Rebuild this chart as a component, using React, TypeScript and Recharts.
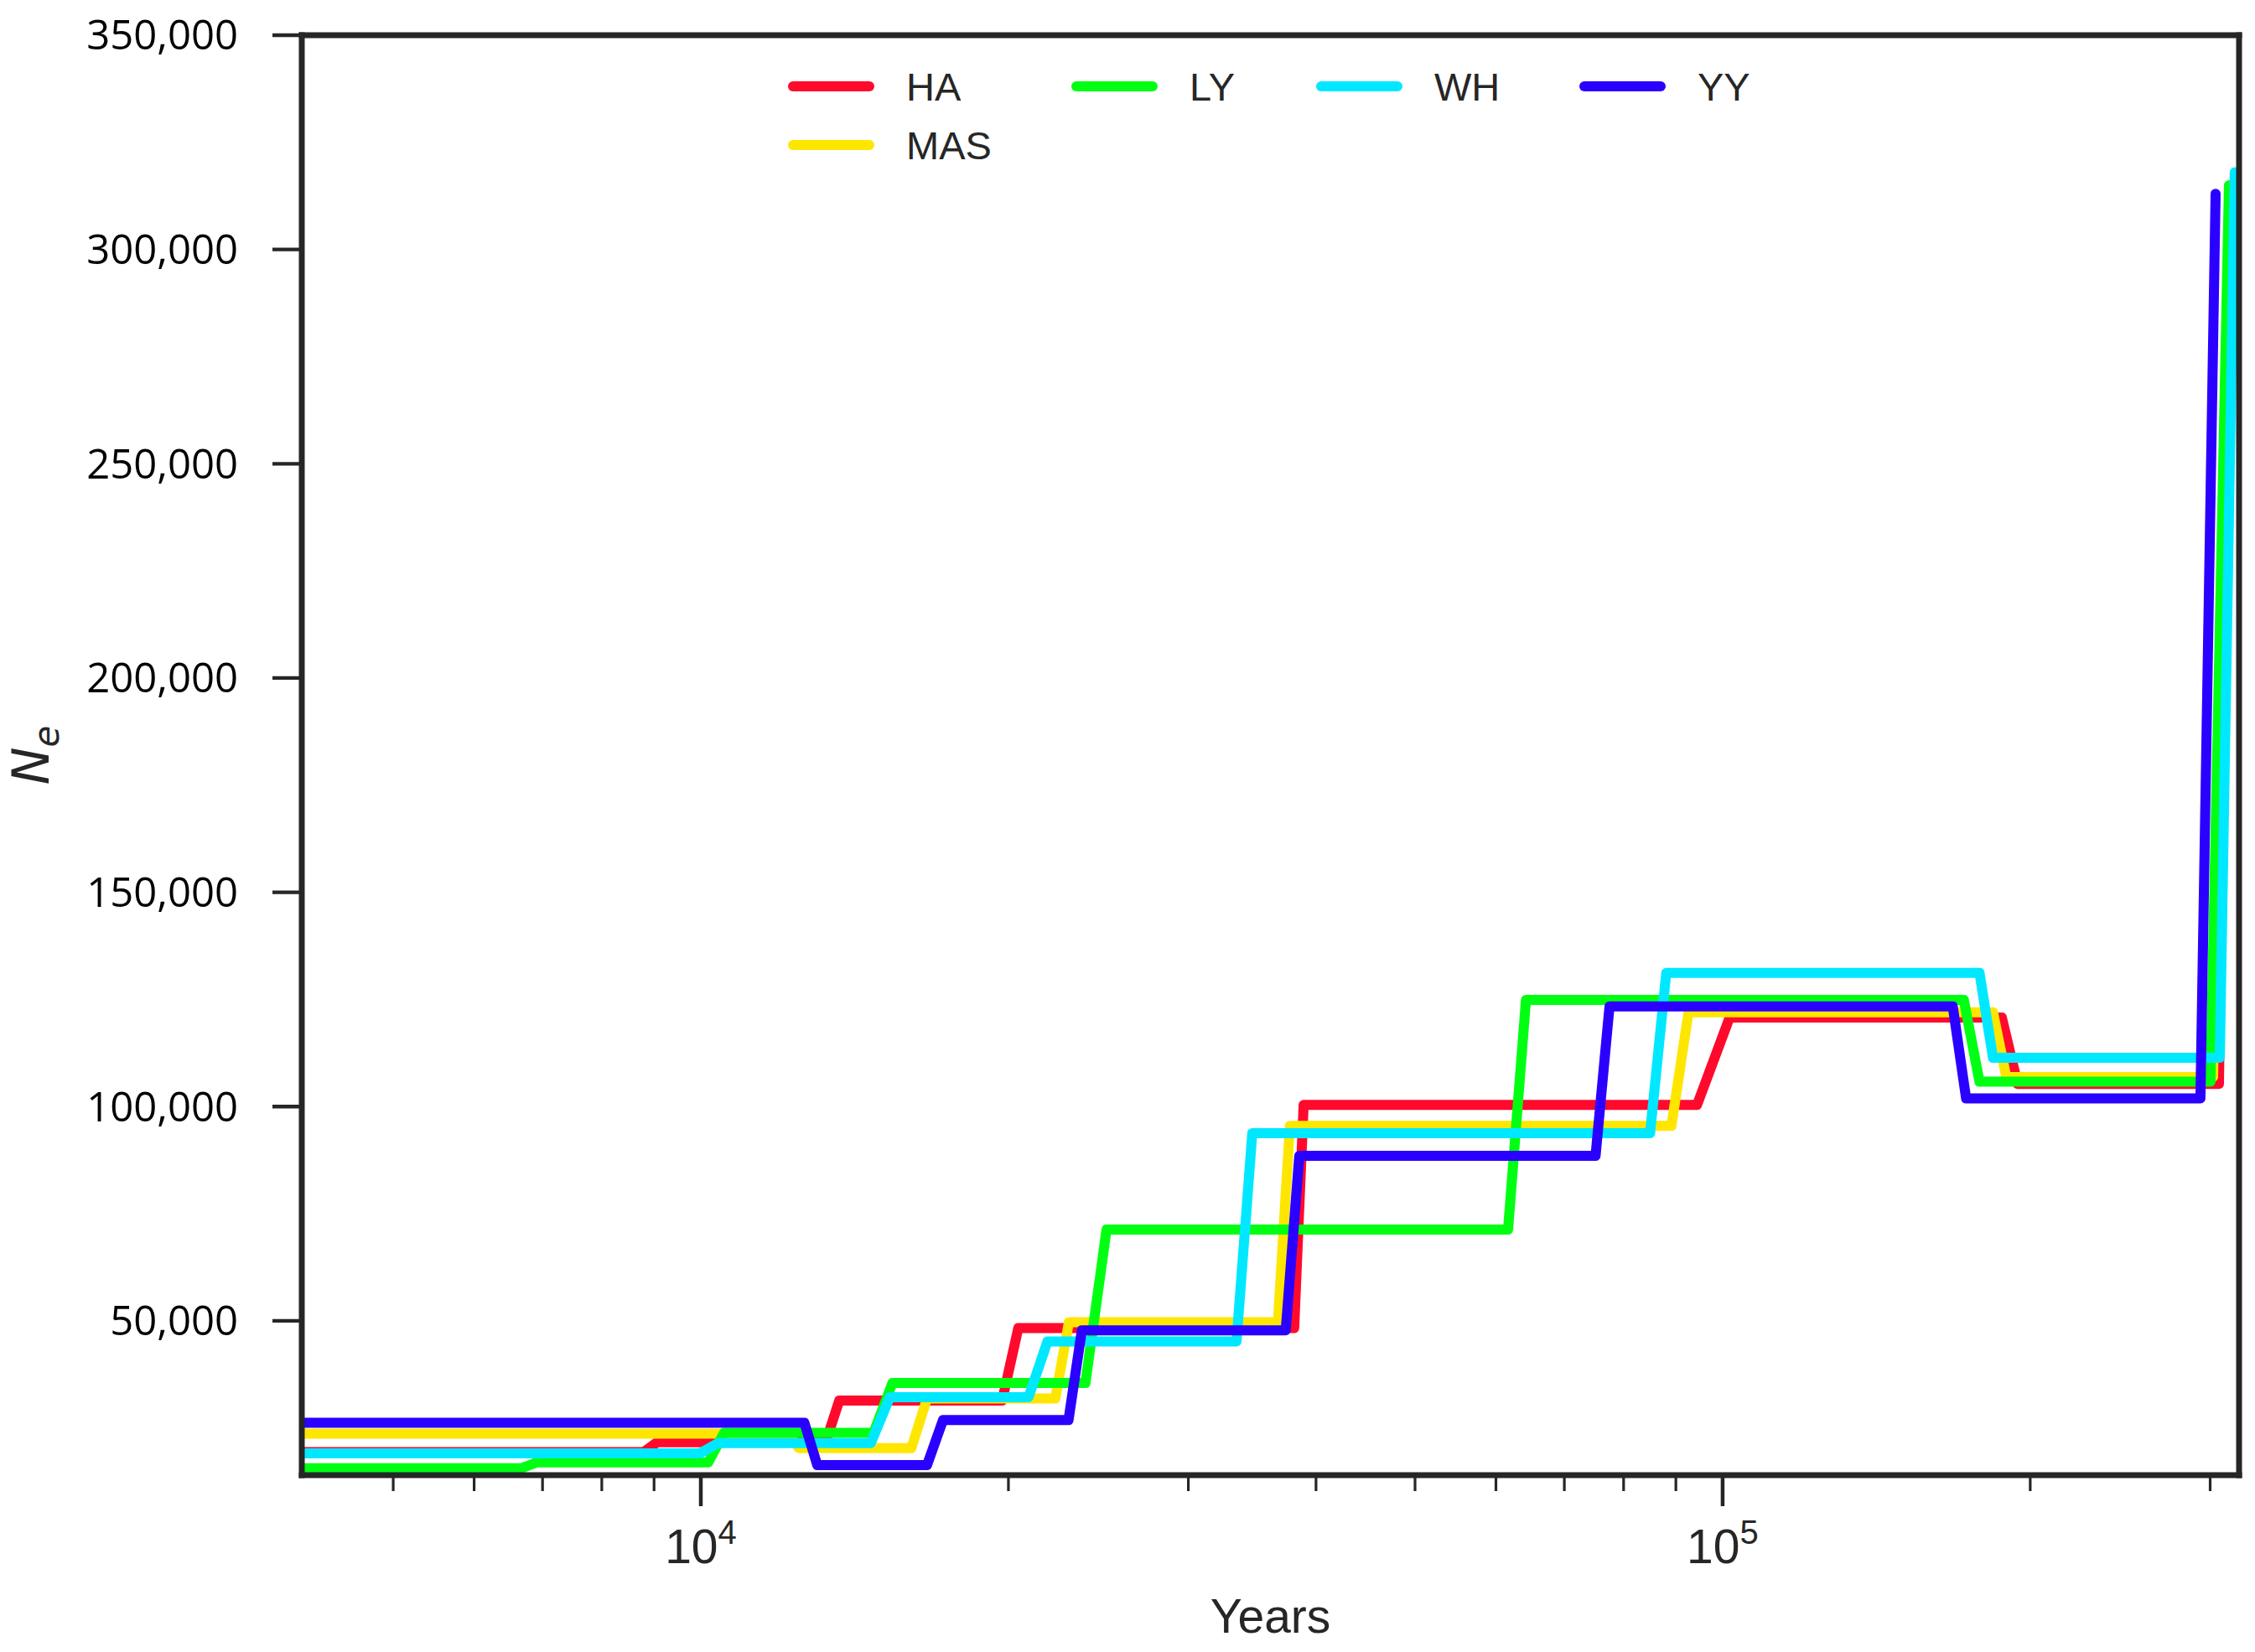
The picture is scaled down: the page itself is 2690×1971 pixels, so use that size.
import { LineChart, Line, XAxis, YAxis, Legend, Label, ReferenceLine } from "recharts";

// Ne step curves per population: each step is a
// pair of points (start, end) so the risers keep their slight slant.
const HA_YEARS = [4000, 8795, 9065, 13250, 13660, 19720, 20450, 38080, 38900, 94400, 101600, 187600, 194400, 306000, 314000];
const HA_NE = [19400, 19400, 21700, 21700, 31400, 31400, 48300, 48300, 100400, 100400, 120800, 120800, 105300, 105300, 300000];

const MAS_YEARS = [4000, 12170, 12470, 16070, 16650, 22230, 22920, 36710, 37710, 89100, 92600, 183900, 189500, 302000, 312400];
const MAS_NE = [23700, 23700, 20300, 20300, 31900, 31900, 49700, 49700, 95500, 95500, 122000, 122000, 106900, 106900, 295000];

const LY_YEARS = [4000, 6670, 6915, 10170, 10540, 14760, 15400, 23790, 24950, 61660, 64200, 172200, 178400, 300200, 313000];
const LY_NE = [15600, 15600, 17000, 17000, 23900, 23900, 35500, 35500, 71300, 71300, 124900, 124900, 105800, 105800, 315000];

const WH_YEARS = [4000, 9980, 10400, 14670, 15310, 20930, 21840, 33440, 34650, 84920, 88070, 178400, 183900, 306600, 317100];
const WH_NE = [19100, 19100, 21500, 21500, 32200, 32200, 45200, 45200, 93800, 93800, 131200, 131200, 111400, 111400, 318000];

const YY_YEARS = [4000, 12630, 13000, 16650, 17260, 22900, 23600, 37360, 38520, 75100, 77500, 167960, 173100, 293500, 303700];
const YY_NE = [26200, 26200, 16350, 16350, 26850, 26850, 47800, 47800, 88500, 88500, 123400, 123400, 101900, 101900, 313000];

const X_DOMAIN = [4069, 320200];
const Y_DOMAIN = [14000, 350000];
const X_MAJOR_TICKS = [10000, 100000];
const X_MINOR_TICKS = [5000, 6000, 7000, 8000, 9000, 20000, 30000, 40000, 50000, 60000, 70000, 80000, 90000, 200000, 300000];
const Y_TICKS = [50000, 100000, 150000, 200000, 250000, 300000, 350000];

const INK = "#262626";
const SANS = "'Liberation Sans', Arial, sans-serif";
const FRAME_W = 7;

// drawing order follows the palette: HA, MAS, LY, WH, YY (YY on top)
const SERIES = [
  { name: "HA", color: "#ff0a2d", years: HA_YEARS, ne: HA_NE },
  { name: "MAS", color: "#ffe600", years: MAS_YEARS, ne: MAS_NE },
  { name: "LY", color: "#00ff12", years: LY_YEARS, ne: LY_NE },
  { name: "WH", color: "#00e8ff", years: WH_YEARS, ne: WH_NE },
  { name: "YY", color: "#2a00ff", years: YY_YEARS, ne: YY_NE },
];

// legend is laid out like matplotlib ncol=4: HA LY WH YY / MAS
const LEGEND_ROWS = [["HA", "LY", "WH", "YY"], ["MAS"]];
const LEGEND_COL_X = [940, 1278, 1570, 1884];
const LEGEND_ROW_Y = [103, 173];

function toPoints(years: number[], ne: number[]) {
  return years.map((t, i) => ({ t, ne: ne[i] }));
}

function XTick(props: any) {
  const { x, y, payload } = props;
  const major = X_MAJOR_TICKS.includes(payload.value);
  return (
    <g>
      <line
        x1={x}
        x2={x}
        y1={y}
        y2={y + (major ? 37 : 19)}
        stroke={INK}
        strokeWidth={major ? 4.5 : 3.2}
      />
      {major && (
        <text x={x} y={y + 105} textAnchor="middle" fontFamily={SANS} fontSize={57} fill={INK}>
          <tspan>10</tspan>
          <tspan dy={-23} fontSize={40}>
            {Math.round(Math.log10(payload.value))}
          </tspan>
        </text>
      )}
    </g>
  );
}

function NeLabel(props: any) {
  const { x, y, height } = props.viewBox;
  const cy = y + height / 2;
  return (
    <text
      transform={`translate(${x + 58}, ${cy}) rotate(-90)`}
      textAnchor="middle"
      fontFamily="'DejaVu Sans', sans-serif"
      fontStyle="italic"
      fontSize={60}
      fill={INK}
    >
      <tspan>N</tspan>
      <tspan dy={12} fontSize={42}>
        e
      </tspan>
    </text>
  );
}

function YearsLabel(props: any) {
  const { x, y, width } = props.viewBox;
  return (
    <text x={x + width / 2} y={y + 188} textAnchor="middle" fontFamily={SANS} fontSize={57} fill={INK}>
      Years
    </text>
  );
}

function LegendContent() {
  return (
    <svg width={2690} height={200} style={{ display: "block" }}>
      {LEGEND_ROWS.map((row, r) =>
        row.map((name, c) => {
          const s = SERIES.find((d) => d.name === name)!;
          const x0 = LEGEND_COL_X[c];
          const cy = LEGEND_ROW_Y[r];
          return (
            <g key={name}>
              <line
                x1={x0 + 6}
                x2={x0 + 97}
                y1={cy}
                y2={cy}
                stroke={s.color}
                strokeWidth={12}
                strokeLinecap="round"
              />
              <text x={x0 + 141} y={cy + 17} fontFamily={SANS} fontSize={47} fill={INK}>
                {name}
              </text>
            </g>
          );
        })
      )}
    </svg>
  );
}

export default function App() {
  const frame = { stroke: INK, strokeWidth: FRAME_W, strokeLinecap: "square" as const };
  return (
    <div style={{ position: "absolute", left: 0, top: 0, background: "#fff" }}>
      <LineChart width={2690} height={1971} margin={{ top: 42, right: 19, bottom: 0, left: 0 }}>
        <Legend
          verticalAlign="middle"
          layout="horizontal"
          content={LegendContent}
          wrapperStyle={{ left: 0, top: 0, width: 2690, height: 200 }}
        />
        {SERIES.map((s) => (
          <Line
            key={s.name}
            data={toPoints(s.years, s.ne)}
            dataKey="ne"
            name={s.name}
            type="linear"
            stroke={s.color}
            strokeWidth={12}
            strokeLinejoin="round"
            strokeLinecap="round"
            dot={false}
            activeDot={false}
            isAnimationActive={false}
          />
        ))}
        <XAxis
          dataKey="t"
          type="number"
          scale="log"
          domain={X_DOMAIN}
          allowDataOverflow
          ticks={[...X_MINOR_TICKS, ...X_MAJOR_TICKS].sort((a, b) => a - b)}
          interval={0}
          tick={<XTick />}
          tickLine={false}
          tickSize={0}
          tickMargin={0}
          height={211}
          axisLine={frame}
        >
          <Label content={YearsLabel} />
        </XAxis>
        <YAxis
          type="number"
          domain={Y_DOMAIN}
          allowDataOverflow
          ticks={Y_TICKS}
          interval={0}
          width={360}
          tickSize={35}
          tickMargin={41}
          tickLine={{ stroke: INK, strokeWidth: 4.3 }}
          tick={{ fontFamily: "'Open Sans', sans-serif", fontSize: 49, fill: "#000" }}
          tickFormatter={(v: number) => v.toLocaleString("en-US")}
          axisLine={frame}
        >
          <Label content={NeLabel} />
        </YAxis>
        {/* top and right spines of the box */}
        <ReferenceLine y={Y_DOMAIN[1]} stroke={INK} strokeWidth={FRAME_W} strokeLinecap="square" />
        <ReferenceLine x={X_DOMAIN[1]} stroke={INK} strokeWidth={FRAME_W} strokeLinecap="square" />
      </LineChart>
    </div>
  );
}
